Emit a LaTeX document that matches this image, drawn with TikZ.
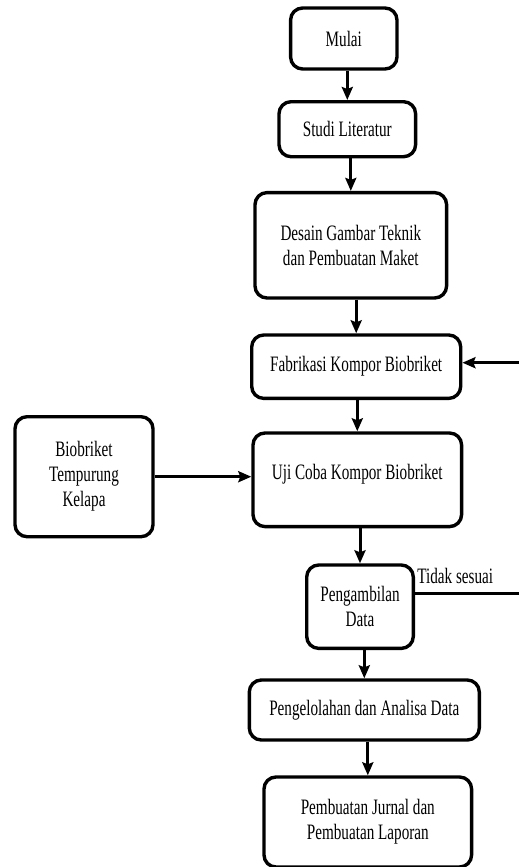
\documentclass[tikz,border=0pt]{standalone}
\usepackage{fontspec}
\setmainfont[FakeStretch=0.69]{Liberation Serif}
\usetikzlibrary{arrows.meta}

\begin{document}
\begin{tikzpicture}[x=0.5pt,y=-0.5pt,
	proses/.style={draw,line width=1.7pt,rounded corners=6pt,align=center,inner sep=2pt,font=\fontsize{11}{12.5}\selectfont},
	alur/.style={-{Stealth[length=6.5pt,width=5.5pt,inset=1pt]},line width=1.5pt}]
	\useasboundingbox (0,0) rectangle (519,867);
	\clip (0,0) rectangle (519,867);
	% alur utama
	\node[proses,minimum width=53.2pt,minimum height=30.5pt] (mulai) at (343.8,38.5) {Mulai};
	\node[proses,minimum width=68.3pt,minimum height=27.5pt] (studi) at (347.3,129.2) {Studi Literatur};
	\node[proses,minimum width=95.8pt,minimum height=52.7pt] (desain) at (350.8,245.3) {Desain Gambar Teknik\\dan Pembuatan Maket};
	\node[proses,minimum width=104.5pt,minimum height=31.7pt] (fabrikasi) at (356.2,366.7) {Fabrikasi Kompor Biobriket};
	\node[proses,minimum width=104.3pt,minimum height=46.8pt,text depth=8pt] (uji) at (357.3,479.8) {Uji Coba Kompor Biobriket};
	\node[proses,minimum width=69pt,minimum height=60pt] (bahan) at (84,476.7) {Biobriket\\Tempurung\\Kelapa};
	\node[proses,minimum width=53.3pt,minimum height=41.7pt] (ambil) at (360,606.7) {Pengambilan\\Data};
	\node[proses,minimum width=115pt,minimum height=30pt] (olah) at (364.3,710) {Pengelolahan dan Analisa Data};
	\node[proses,minimum width=103.8pt,minimum height=45pt] (laporan) at (367.8,822) {Pembuatan Jurnal dan\\Pembuatan Laporan};
	\node[anchor=west,inner sep=0pt,font=\fontsize{11}{12.5}\selectfont] (tidak) at (417,576) {Tidak sesuai};
	\coordinate (balik) at (525,480);
	% panah
	\draw[alur] (studi.north |- mulai.south) -- (studi.north);
	\draw[alur] (desain.north |- studi.south) -- (desain.north);
	\draw[alur] (fabrikasi.north |- desain.south) -- (fabrikasi.north);
	\draw[alur] (uji.north |- fabrikasi.south) -- (uji.north);
	\draw[alur] (bahan.east) -- (uji.west |- bahan.east);
	\draw[alur] (ambil.north |- uji.south) -- (ambil.north);
	\draw[alur] (olah.north |- ambil.south) -- (olah.north);
	\draw[alur] (laporan.north |- olah.south) -- (laporan.north);
	\draw[alur] ([yshift=6.7pt]ambil.east) -| (balik) |- ([yshift=2pt]fabrikasi.east);
\end{tikzpicture}
\end{document}
